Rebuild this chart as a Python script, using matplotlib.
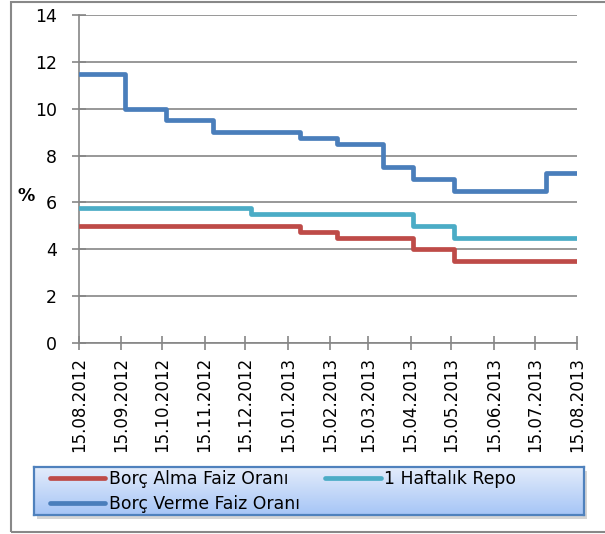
import numpy as np
import matplotlib
matplotlib.use('Agg')
import matplotlib.pyplot as plt
from matplotlib.patches import Rectangle
from matplotlib.colors import LinearSegmentedColormap
from datetime import date

# policy rates (step changes)
verme_dates = ['2012-08-15', '2012-09-18', '2012-10-18', '2012-11-21', '2013-01-24',
               '2013-02-20', '2013-03-26', '2013-04-17', '2013-05-17', '2013-07-23', '2013-08-15']
verme_vals = [11.5, 10.0, 9.5, 9.0, 8.75, 8.5, 7.5, 7.0, 6.5, 7.25, 7.25]

repo_dates = ['2012-08-15', '2012-12-19', '2013-04-17', '2013-05-17', '2013-08-15']
repo_vals = [5.75, 5.5, 5.0, 4.5, 4.5]

alma_dates = ['2012-08-15', '2013-01-24', '2013-02-20', '2013-04-17', '2013-05-17', '2013-08-15']
alma_vals = [5.0, 4.75, 4.5, 4.0, 3.5, 3.5]

tick_dates = [date(2012 + (7 + i) // 12, (7 + i) % 12 + 1, 15) for i in range(13)]
tick_labels = [d.strftime('%d.%m.%Y') for d in tick_dates]

W, H = 605, 534
fig = plt.figure(figsize=(W / 100, H / 100), dpi=100)
ax = fig.add_axes([79 / W, 1 - 343 / H, (577 - 79) / W, (343 - 15) / H])

grid_c = '#868686'
to_d = lambda l: [np.datetime64(s) for s in l]

ax.step(to_d(alma_dates), alma_vals, where='post', color='#BE4B48', lw=3.4,
        solid_capstyle='round', solid_joinstyle='round', label='Borç Alma Faiz Oranı', zorder=3)
ax.step(to_d(verme_dates), verme_vals, where='post', color='#4A7EBB', lw=3.4,
        solid_capstyle='round', solid_joinstyle='round', label='Borç Verme Faiz Oranı', zorder=3)
ax.step(to_d(repo_dates), repo_vals, where='post', color='#4BACC6', lw=3.4,
        solid_capstyle='round', solid_joinstyle='round', label='1 Haftalık Repo', zorder=3)

ax.set_xlim(np.datetime64('2012-08-15'), np.datetime64('2013-08-15'))
ax.set_ylim(0, 14)
ax.set_yticks(range(0, 15, 2))
ax.set_xticks([np.datetime64(d) for d in tick_dates])
ax.set_xticklabels(tick_labels, rotation=90, fontsize=12)
ax.tick_params(axis='y', labelsize=12.5, pad=11)
ax.tick_params(axis='x', pad=5)
ax.tick_params(direction='inout', length=9.5, width=1.2, color=grid_c)
ax.grid(axis='y', color=grid_c, lw=1.2)
ax.set_axisbelow(True)
for s in ['top', 'right']:
    ax.spines[s].set_visible(False)
for s in ['left', 'bottom']:
    ax.spines[s].set_color(grid_c)
    ax.spines[s].set_linewidth(1.2)

fig.text(26 / W, 1 - 196 / H, '%', fontsize=12.5, fontweight='bold', ha='center', va='center')

# outer chart border (right side falls outside the image)
fig.patches.append(Rectangle((11 / W, 1 - 532 / H), 1.1, 530 / H, transform=fig.transFigure,
                             fill=False, edgecolor='#888888', lw=1.5, zorder=-2))

# legend box with gradient and shadow
fig.patches.append(Rectangle((37 / W, 1 - 519 / H), 550 / W, 48 / H, transform=fig.transFigure,
                             facecolor='#c4c4c4', edgecolor='none', alpha=0.7, zorder=-1))
lax = fig.add_axes([34 / W, 1 - 515 / H, 550 / W, 48 / H])
lax.set_zorder(2)
cmap = LinearSegmentedColormap.from_list('g', ['#a6c5f6', '#e3ecfb'])
lax.imshow(np.linspace(0, 1, 100).reshape(-1, 1), aspect='auto', cmap=cmap,
           extent=[0, 1, 0, 1], origin='lower')
lax.set_xticks([])
lax.set_yticks([])
for s in lax.spines.values():
    s.set_color('#4F81BD')
    s.set_linewidth(1.6)

h, l = ax.get_legend_handles_labels()
leg = fig.legend(h, l, ncol=2, loc='upper left', bbox_to_anchor=(50 / W, 1 - 470 / H),
                 frameon=False, fontsize=12.4, handlelength=3.2, handletextpad=0.2,
                 columnspacing=1.5, labelspacing=0.4, borderpad=0, borderaxespad=0)
leg.set_zorder(5)

fig.savefig('out.png', dpi=100)
